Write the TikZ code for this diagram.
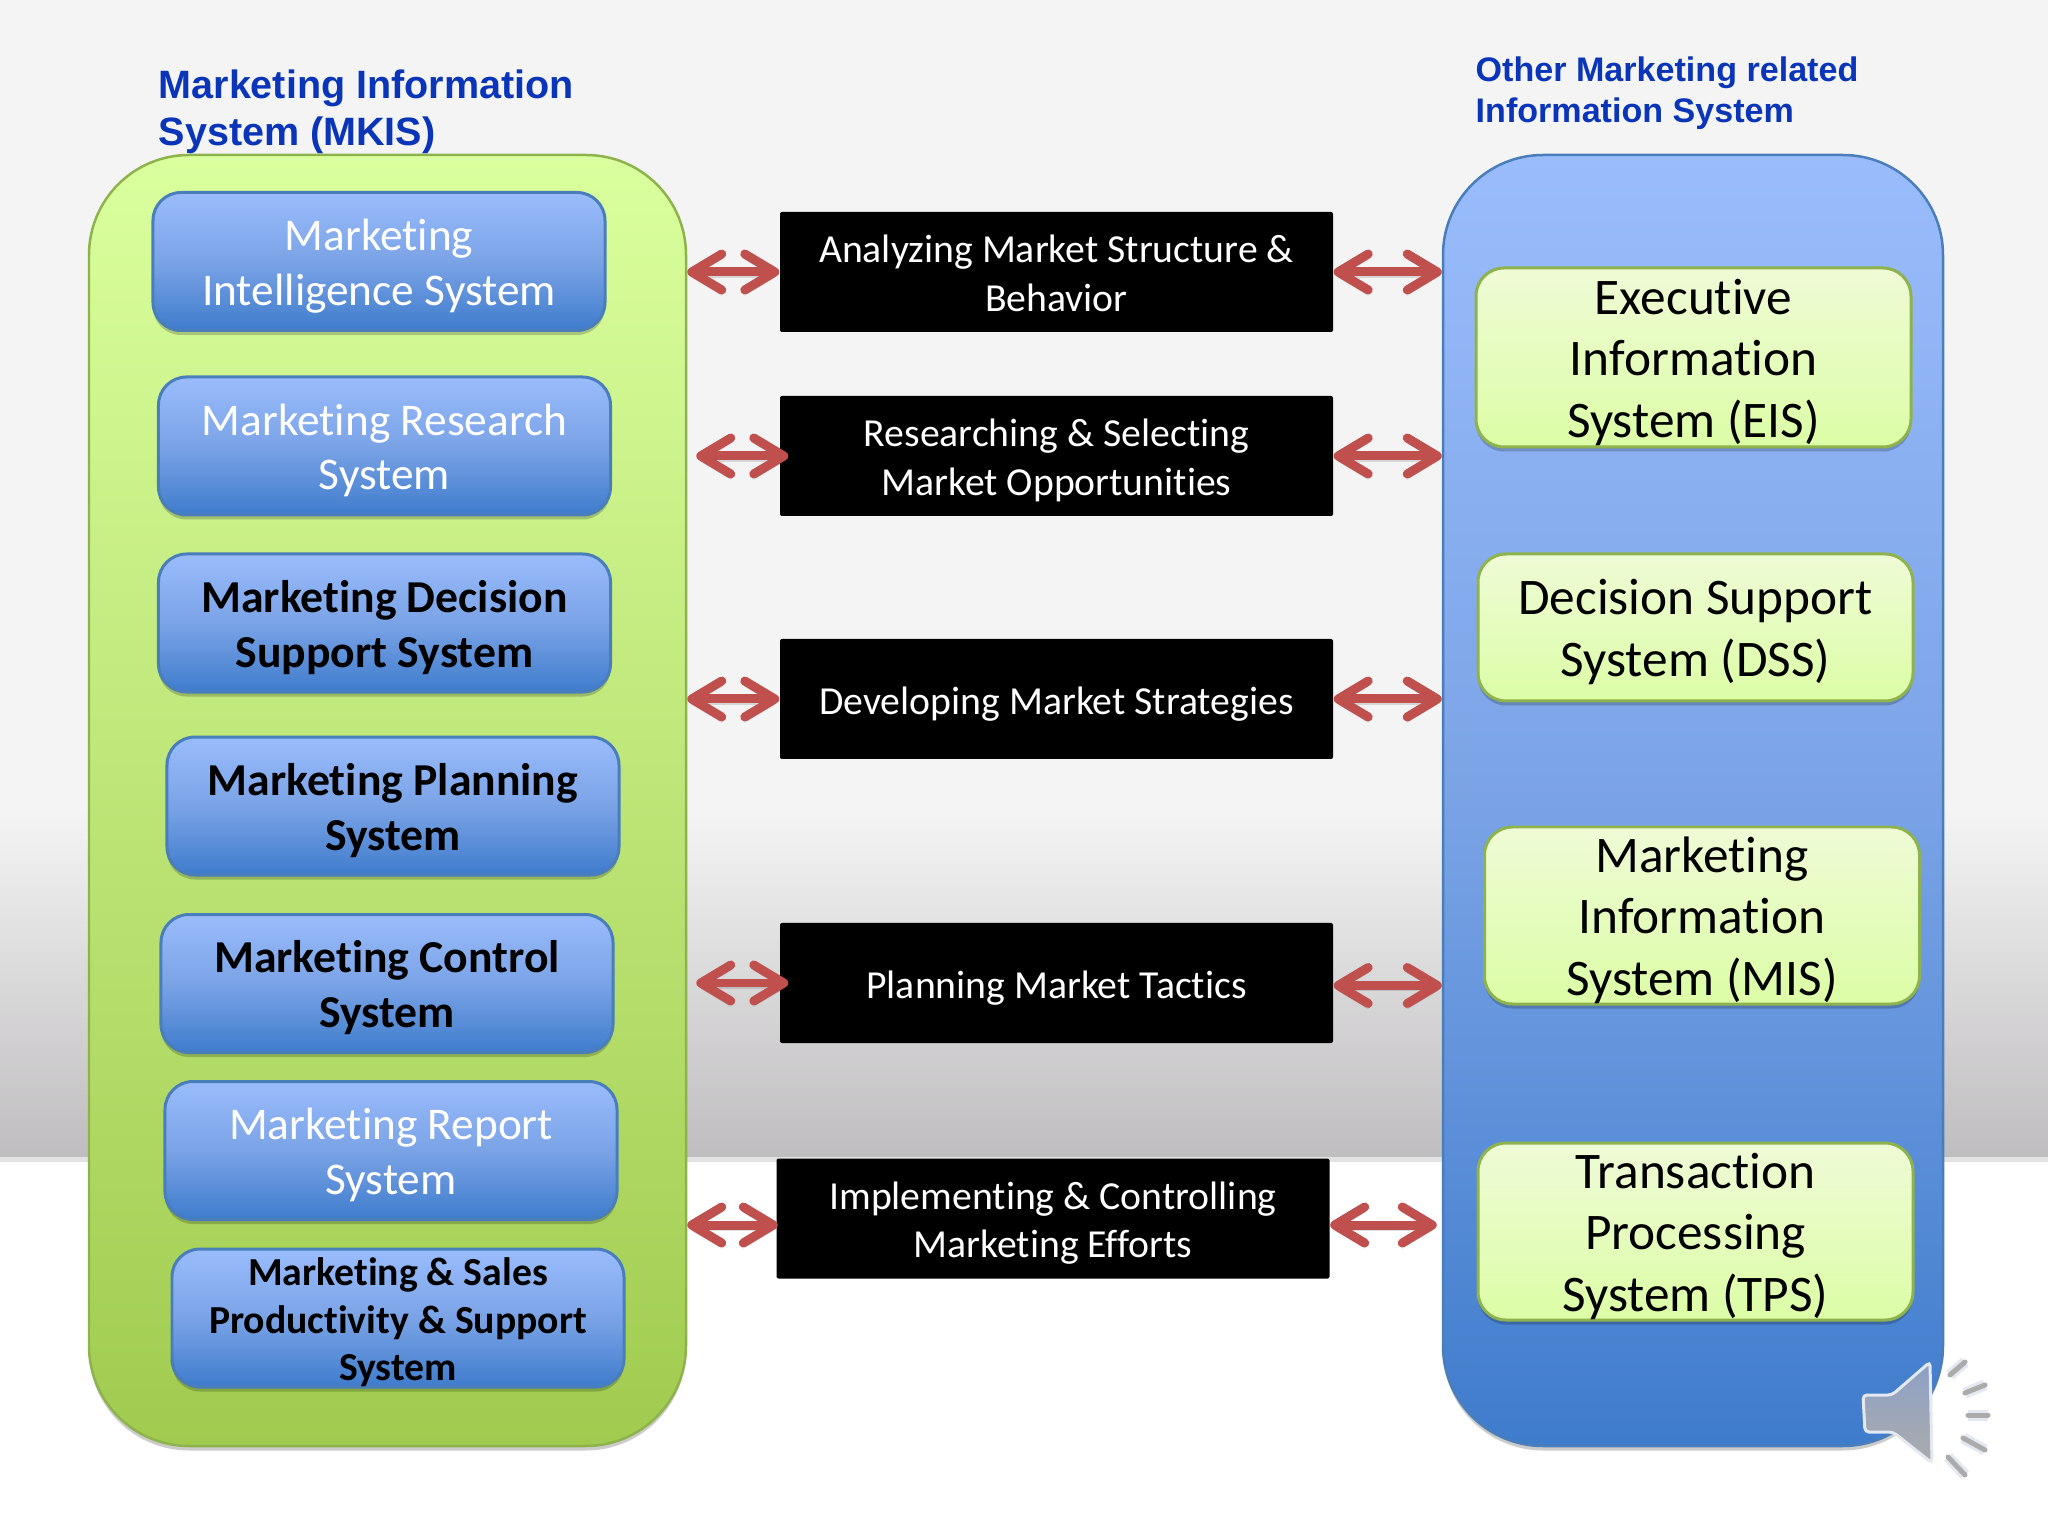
\documentclass[tikz,border=0pt]{standalone}
\usepackage{fontspec}
\setmainfont{Carlito}[Ligatures=NoCommon]
\newfontfamily\titlefont{Liberation Sans}
\usetikzlibrary{arrows.meta,shadows}

\definecolor{slidegrey}{HTML}{F4F4F4}
\definecolor{slidedark}{HTML}{BFBDBF}
\definecolor{slideband}{HTML}{E2E2E2}
\definecolor{titleblue}{HTML}{0A35B8}
\definecolor{bluetop}{HTML}{9ABCFC}
\definecolor{bluemid}{HTML}{7AA3E6}
\definecolor{bluebot}{HTML}{3F7CCC}
\definecolor{blueline}{HTML}{4A7EBB}
\definecolor{greentop}{HTML}{DAFF9E}
\definecolor{greenbot}{HTML}{A0CB4F}
\definecolor{greenline}{HTML}{8FB34C}
\definecolor{palegreen}{HTML}{EFFBD6}
\definecolor{limegreen}{HTML}{DCFDA6}
\definecolor{arrowred}{HTML}{C0504D}
\definecolor{speakertop}{HTML}{8CA1C7}
\definecolor{speakerbot}{HTML}{ABABAB}
\definecolor{speakerline}{HTML}{E4E8F0}

\newcommand{\lineup}{\rule{0pt}{\dimexpr.75em+.09cm\relax}}

\begin{document}
\begin{tikzpicture}[node distance=1.8cm,
    softshadow/.style={drop shadow={shadow xshift=0cm,shadow yshift=-.045cm,opacity=.2,fill=black}},
    textbalance/.style={inner xsep=0pt,inner ysep=-.3cm,execute at end node={\rule[-.22em]{0pt}{0pt}}},
    greenpanel/.style={rectangle,rounded corners=1cm,draw=greenline,line width=.025cm,minimum width=5.97cm,minimum height=12.91cm,top color=greentop,bottom color=greenbot,softshadow},
    bluepanel/.style={rectangle,rounded corners=1cm,draw=blueline,line width=.025cm,minimum width=5cm,minimum height=12.91cm,top color=bluetop,bottom color=bluebot,middle color=bluemid,softshadow},
    bluebox/.style={rectangle,rounded corners=.28cm,draw=blueline,line width=.03cm,minimum width=4.52cm,minimum height=1.38cm,align=center,top color=bluetop,bottom color=bluebot,middle color=bluemid,softshadow,textbalance,font=\fontsize{12.9}{15.6}\selectfont},
    lightbox/.style={bluebox,text=white},
    darkbox/.style={bluebox,text=black,font=\fontsize{13}{15.6}\selectfont\bfseries},
    tightbox/.style={bluebox,text=black,font=\fontsize{11.3}{13.6}\selectfont\bfseries},
    limebox/.style={rectangle,rounded corners=.28cm,draw=greenline,line width=.03cm,minimum width=4.35cm,align=center,top color=palegreen,bottom color=limegreen,softshadow,textbalance,font=\fontsize{14.6}{17.5}\selectfont},
    taskbox/.style={rectangle,rounded corners=.02cm,fill=black,text=white,minimum width=5.53cm,minimum height=1.2cm,align=center,textbalance,font=\fontsize{11.3}{13.7}\selectfont},
    redarrow/.style={draw=arrowred,line width=.09cm,{Straight Barb[length=.3cm,width=.36cm,round]}-{Straight Barb[length=.3cm,width=.36cm,round]},
        preaction={draw=black,draw opacity=.12,transform canvas={yshift=-.05cm}}},
    speakerbody/.style={rounded corners=.04cm,draw=speakerline,line width=.03cm,top color=speakertop,bottom color=speakerbot},
    speakertick/.style={draw=speakerbot,line width=.05cm,line cap=round,preaction={draw=speakerline,line width=.11cm}},
    heading/.style={text=titleblue,align=left,anchor=west,inner sep=0pt}]

    \useasboundingbox (0,0) rectangle (20.48,-15.36);

    % slide background
    \fill[slidegrey] (0,0) rectangle (20.48,-8.1);
    \shade[top color=slidegrey,bottom color=slidedark] (0,-8.1) rectangle (20.48,-11.57);
    \fill[slideband] (0,-11.57) rectangle (20.48,-11.62);
    \fill[white] (0,-11.62) rectangle (20.48,-15.36);

    \node (mkis) [greenpanel] at (3.875,-8.005) {};
    \node (other) [bluepanel] at (16.93,-8.005) {};

    \node (mkistitle) [heading,font=\titlefont\bfseries\fontsize{11.25}{13.4}\selectfont] at (1.58,-1.12) {Marketing Information\\System (MKIS)};
    \node (othertitle) [heading,font=\titlefont\bfseries\fontsize{9.7}{11.8}\selectfont] at (14.75,-.93) {Other Marketing related\\Information System};

    \node (intel) [lightbox] at (3.79,-2.615) {\lineup Marketing\\Intelligence System};
    \node (research) [lightbox,below of=intel,node distance=1.845cm,xshift=.055cm] {\lineup Marketing Research\\System};
    \node (decision) [darkbox,below of=research,node distance=1.77cm] {\lineup Marketing Decision\\Support System};
    \node (planning) [darkbox,below of=decision,node distance=1.83cm,xshift=.085cm] {\lineup Marketing Planning\\System};
    \node (control) [darkbox,below of=planning,node distance=1.775cm,xshift=-.06cm] {\lineup Marketing Control\\System};
    \node (report) [lightbox,below of=control,node distance=1.67cm,xshift=.04cm] {\lineup Marketing Report\\System};
    \node (sales) [tightbox,below of=report,node distance=1.675cm,xshift=.07cm] {\lineup Marketing \& Sales\\Productivity \& Support\\System};

    \node (analyze) [taskbox] at (10.565,-2.72) {\lineup Analyzing Market Structure \&\\Behavior};
    \node (select) [taskbox,below of=analyze,node distance=1.84cm] {\lineup Researching \& Selecting\\Market Opportunities};
    \node (strategy) [taskbox,below of=select,node distance=2.43cm] {\lineup Developing Market Strategies};
    \node (tactics) [taskbox,below of=strategy,node distance=2.84cm] {\lineup Planning Market Tactics};
    \node (efforts) [taskbox,below of=tactics,node distance=2.355cm,xshift=-.035cm] {\lineup Implementing \& Controlling\\Marketing Efforts};

    \node (eis) [limebox,minimum height=1.79cm] at (16.935,-3.575) {\lineup Executive\\Information\\System (EIS)};
    \node (dss) [limebox,minimum height=1.47cm,below of=eis,node distance=2.7cm,xshift=.02cm] {\lineup Decision Support\\System (DSS)};
    \node (mis) [limebox,minimum height=1.77cm,below of=dss,node distance=2.88cm,xshift=.065cm] {\lineup Marketing\\Information\\System (MIS)};
    \node (tps) [limebox,minimum height=1.77cm,below of=mis,node distance=3.16cm,xshift=-.065cm] {\lineup Transaction\\Processing\\System (TPS)};

    \draw[redarrow] (mkis.east |- analyze.west) -- (analyze.west);
    \draw[redarrow] ([xshift=.09cm]mkis.east |- select.west) -- ([xshift=.09cm]select.west);
    \draw[redarrow] (mkis.east |- strategy.west) -- (strategy.west);
    \draw[redarrow] ([xshift=.09cm]mkis.east |- tactics.west) -- ([xshift=.09cm]tactics.west);
    \draw[redarrow] ([yshift=-.065cm]mkis.east |- efforts.west) -- ([xshift=.02cm,yshift=-.065cm]efforts.west);

    \draw[redarrow] (analyze.east) -- (other.west |- analyze.east);
    \draw[redarrow] (select.east) -- (other.west |- select.east);
    \draw[redarrow] (strategy.east) -- (other.west |- strategy.east);
    \draw[redarrow] ([yshift=-.025cm]tactics.east) -- ([yshift=-.025cm]other.west |- tactics.east);
    \draw[redarrow] ([yshift=-.065cm]efforts.east) -- ([xshift=-.05cm,yshift=-.065cm]other.west |- efforts.east);

    % speaker icon
    \draw[speakerbody] (18.63,-13.95) -- (18.92,-13.95) -- (19.3,-13.62) -- (19.32,-14.63) -- (18.93,-14.32) -- (18.65,-14.32) -- cycle;
    \draw[speakertick] (19.5,-13.75) -- (19.65,-13.62);
    \draw[speakertick] (19.65,-13.93) -- (19.85,-13.85);
    \draw[speakertick] (19.68,-14.15) -- (19.88,-14.15);
    \draw[speakertick] (19.63,-14.38) -- (19.85,-14.5);
    \draw[speakertick] (19.48,-14.57) -- (19.65,-14.75);
\end{tikzpicture}
\end{document}
